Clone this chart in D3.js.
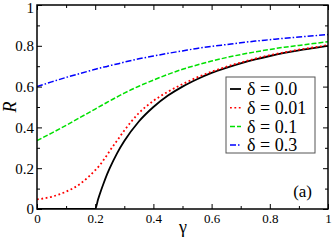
<!DOCTYPE html>
<html><head><meta charset="utf-8">
<script src="https://cdn.jsdelivr.net/npm/d3@7"></script>
<style>html,body{margin:0;padding:0;background:#fff;}svg text{font-family:"Liberation Serif","Times New Roman",serif !important;}</style>
</head><body><svg id="c" width="332" height="241"></svg>
<script>
const gammaVals = [0,0.05,0.1,0.15,0.2,0.21,0.22,0.23,0.24,0.25,0.275,0.3,0.35,0.4,0.45,0.5,0.55,0.6,0.65,0.7,0.75,0.8,0.85,0.9,0.95,1.0];
const r00  = [0,0,0,0,0,0.048,0.091,0.13,0.167,0.2,0.273,0.333,0.429,0.5,0.556,0.6,0.636,0.667,0.692,0.714,0.733,0.75,0.765,0.778,0.789,0.8];
const r001 = [0.047,0.06,0.085,0.125,0.19,0.205,0.223,0.243,0.263,0.285,0.335,0.385,0.47,0.53,0.575,0.612,0.645,0.673,0.697,0.718,0.737,0.754,0.768,0.781,0.792,0.803];
const r01  = [0.335,0.372,0.41,0.45,0.49,0.498,0.506,0.514,0.522,0.53,0.549,0.568,0.602,0.632,0.66,0.685,0.706,0.725,0.742,0.757,0.77,0.782,0.793,0.802,0.811,0.82];
const r03  = [0.6,0.623,0.645,0.665,0.685,0.689,0.692,0.696,0.699,0.703,0.711,0.72,0.736,0.75,0.763,0.775,0.787,0.797,0.806,0.815,0.823,0.83,0.837,0.843,0.849,0.855];
const legendLabels = ["δ = 0.0","δ = 0.01","δ = 0.1","δ = 0.3"];
const colors = ["#000000","#ff0000","#00e000","#0000ff"];
const dashes = ["none","1.8,2.6","5,2","6,2,1.5,2"];
const xTicks = [0,0.2,0.4,0.6,0.8,1];
const yTicks = [0,0.2,0.4,0.6,0.8,1];
const minorTicks = [0.1,0.3,0.5,0.7,0.9];

const FONT='"Liberation Serif","Times New Roman",serif';
const L=37,R=328,T=5,B=209;
const svg=d3.select("#c");
const x=d3.scaleLinear().domain([0,1]).range([L,R]);
const y=d3.scaleLinear().domain([0,1]).range([B,T]);

svg.append("clipPath").attr("id","clip").append("rect").attr("x",L).attr("y",T).attr("width",R-L).attr("height",B-T);

const series=[r00,r001,r01,r03];
const line=d3.line().x((d,i)=>x(gammaVals[i])).y(d=>y(d)).curve(d3.curveMonotoneX);
const g=svg.append("g").attr("clip-path","url(#clip)");
series.forEach((s,k)=>{
  g.append("path").datum(s).attr("d",line).attr("fill","none")
   .attr("stroke",colors[k]).attr("stroke-width",k===0?1.8:(k===1?1.8:1.5))
   .attr("stroke-dasharray",dashes[k]);
});

function ax(gen,tr,vals,size,fmt){
  const a=svg.append("g").attr("transform",tr).call(gen.tickValues(vals).tickSize(size).tickSizeOuter(0).tickFormat(fmt));
  a.attr("font-family",FONT);
  a.select(".domain").remove();
  a.selectAll("line").attr("stroke","#000").attr("stroke-width",1);
  return a;
}
const fmt=d=>d===0?"0":d===1?"1":d3.format(".1f")(d);
const xb=ax(d3.axisBottom(x),`translate(0,${B})`,xTicks,-5,fmt);
xb.selectAll("text").attr("y",5).attr("dy","0.71em").attr("font-size",13).attr("fill","#000");
ax(d3.axisBottom(x),`translate(0,${B})`,minorTicks,-3,"").selectAll("text").remove();
ax(d3.axisTop(x),`translate(0,${T})`,xTicks,-5,"").selectAll("text").remove();
ax(d3.axisTop(x),`translate(0,${T})`,minorTicks,-3,"").selectAll("text").remove();
const yl=ax(d3.axisLeft(y),`translate(${L},0)`,yTicks,-5,fmt);
yl.selectAll("text").attr("x",-3).attr("font-size",15).attr("fill","#000")
  .attr("dy",d=>d===1?"0.5em":"0.32em");
ax(d3.axisLeft(y),`translate(${L},0)`,minorTicks,-3,"").selectAll("text").remove();
ax(d3.axisRight(y),`translate(${R},0)`,yTicks,-5,"").selectAll("text").remove();
ax(d3.axisRight(y),`translate(${R},0)`,minorTicks,-3,"").selectAll("text").remove();

svg.append("rect").attr("x",L).attr("y",T).attr("width",R-L).attr("height",B-T)
  .attr("fill","none").attr("stroke","#000").attr("stroke-width",1.5);

svg.append("text").attr("x",183).attr("y",233).attr("text-anchor","middle").attr("font-size",18).attr("font-family",FONT).text("γ");
svg.append("text").attr("transform","translate(16,107) rotate(-90)").attr("text-anchor","middle")
  .attr("font-size",18).attr("font-style","italic").attr("font-family",FONT).text("R");

const lg=svg.append("g").attr("font-family",FONT);
lg.append("rect").attr("x",226).attr("y",77).attr("width",89).attr("height",76).attr("fill","#fff").attr("stroke","#555").attr("stroke-width",1);
legendLabels.forEach((t,k)=>{
  const yy=89+k*18.7;
  lg.append("line").attr("x1",230).attr("x2",241).attr("y1",yy).attr("y2",yy)
    .attr("stroke",colors[k]).attr("stroke-width",k===0?1.8:1.5).attr("stroke-dasharray",dashes[k]);
  lg.append("text").attr("x",247).attr("y",yy).attr("dy","0.35em").attr("font-size",18).text(t);
});
svg.append("text").attr("x",312).attr("y",191).attr("dy","0.35em").attr("text-anchor","end").attr("font-size",17).attr("font-family",FONT).text("(a)");
</script></body></html>
